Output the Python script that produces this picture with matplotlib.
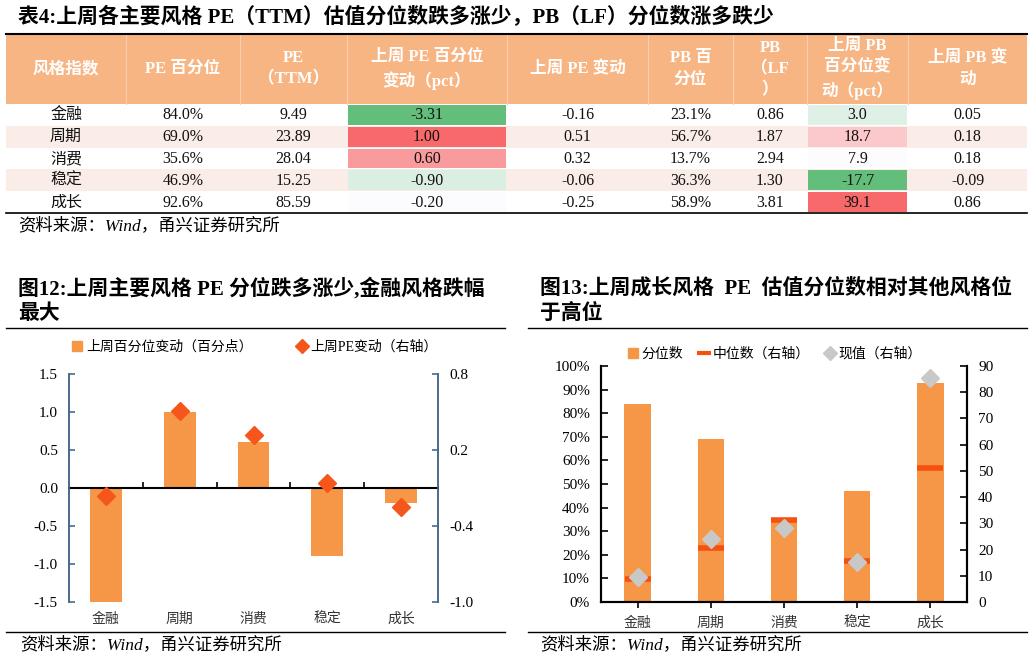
import numpy as np
import matplotlib
matplotlib.use('Agg')
from matplotlib import pyplot as plt
from matplotlib.patches import Rectangle, Patch
from matplotlib.lines import Line2D

plt.rcParams['axes.unicode_minus'] = False
FONTS = ['Liberation Serif', 'Noto Sans CJK SC']
plt.rcParams['font.family'] = FONTS

# ---- data ----
styles = ['金融', '周期', '消费', '稳定', '成长']
pe_pct = [84.0, 69.0, 35.6, 46.9, 92.6]
pe_ttm = [9.49, 23.89, 28.04, 15.25, 85.59]
pe_pct_chg = [-3.31, 1.00, 0.60, -0.90, -0.20]
pe_chg = [-0.16, 0.51, 0.32, -0.06, -0.25]
pb_pct = [23.1, 56.7, 13.7, 36.3, 58.9]
pb_lf = [0.86, 1.87, 2.94, 1.30, 3.81]
pb_pct_chg = [3.0, 18.7, 7.9, -17.7, 39.1]
pb_chg = [0.05, 0.18, 0.18, -0.09, 0.86]
pe_median = [8.6, 20.6, 31.4, 15.6, 51.1]

headers = ['风格指数', 'PE 百分位', 'PE\n（TTM）', '上周 PE 百分位\n变动（pct）', '上周 PE 变动',
           'PB 百\n分位', 'PB\n（LF\n）', '上周 PB\n百分位变\n动（pct）', '上周 PB 变\n动']

ORANGE = '#F59746'
HEAD = '#F8B584'
SOURCE = '资料来源：Wind，甬兴证券研究所'


def scale_colors(vals):
    # excel style 3 colour scale: green - white(median) - red
    green = np.array([99, 190, 123]) / 255
    white = np.array([252, 252, 255]) / 255
    red = np.array([248, 105, 107]) / 255
    lo, mid, hi = min(vals), np.median(vals), max(vals)
    out = []
    for v in vals:
        if v >= mid:
            t = (v - mid) / (hi - mid) if hi > mid else 0
            out.append(white + (red - white) * t)
        else:
            t = (mid - v) / (mid - lo)
            out.append(white + (green - white) * t)
    return out


fig = plt.figure(figsize=(10.32, 6.59), dpi=100)
bg = fig.add_axes([0, 0, 1, 1])
bg.set_xlim(0, 1032)
bg.set_ylim(659, 0)
bg.axis('off')

# ---- table ----
bg.text(18, 18, '表4:上周各主要风格 PE（TTM）估值分位数跌多涨少，PB（LF）分位数涨多跌少',
        fontsize=15, fontweight='bold', va='center', ha='left')

col_x = [6, 126, 240, 347, 507, 648, 733, 807, 908, 1027]
top, head_h, row_h = 34, 70, 21.8
bg.add_patch(Rectangle((col_x[0], top), col_x[-1] - col_x[0], head_h, color=HEAD, lw=0))
for xx in col_x[1:-1]:
    bg.plot([xx, xx], [top, top + head_h], color='#FBCDAE', lw=0.8)
for j, h in enumerate(headers):
    bg.text((col_x[j] + col_x[j + 1]) / 2, top + head_h / 2, h, ha='center', va='center',
            color='white', fontweight='bold', fontsize=12, linespacing=1.45)

cols = [styles,
        ['%.1f%%' % v for v in pe_pct],
        ['%.2f' % v for v in pe_ttm],
        ['%.2f' % v for v in pe_pct_chg],
        ['%.2f' % v for v in pe_chg],
        ['%.1f%%' % v for v in pb_pct],
        ['%.2f' % v for v in pb_lf],
        ['%.1f' % v for v in pb_pct_chg],
        ['%.2f' % v for v in pb_chg]]
cell_cols = {3: scale_colors(pe_pct_chg), 7: scale_colors(pb_pct_chg)}

body_top = top + head_h
for i in range(len(styles)):
    y0 = body_top + i * row_h
    if i % 2 == 1:
        bg.add_patch(Rectangle((col_x[0], y0), col_x[-1] - col_x[0], row_h, color='#FAEDE7', lw=0))
    for j in range(len(cols)):
        if j in cell_cols:
            bg.add_patch(Rectangle((col_x[j] + 1, y0 + 1), col_x[j + 1] - col_x[j] - 2, row_h - 2,
                                   color=cell_cols[j][i], lw=0))
        bg.text((col_x[j] + col_x[j + 1]) / 2, y0 + row_h / 2 + 0.5, cols[j][i],
                ha='center', va='center', fontsize=11.5, color='#111111')

bg.plot([col_x[0], col_x[-1]], [top, top], color='black', lw=1.5)
bot = body_top + len(styles) * row_h
bg.plot([col_x[0], col_x[-1]], [bot, bot], color='black', lw=1.2)
bg.text(18, 226, SOURCE, fontsize=12.5, style='italic', va='center')

# ---- chart titles / frame lines ----
bg.text(18, 301, '图12:上周主要风格 PE 分位跌多涨少,金融风格跌幅\n最大',
        fontsize=15, fontweight='bold', va='center', linespacing=1.35)
bg.text(540, 301, '图13:上周成长风格  PE  估值分位数相对其他风格位\n于高位',
        fontsize=15, fontweight='bold', va='center', linespacing=1.35)
for xa, xb in [(6, 505), (528, 1027)]:
    bg.plot([xa, xb], [328, 328], color='black', lw=1.0)
    bg.plot([xa, xb], [632, 632], color='black', lw=1.0)
bg.text(20, 645, SOURCE, fontsize=12.5, style='italic', va='center')
bg.text(540, 645, SOURCE, fontsize=12.5, style='italic', va='center')

x = np.arange(len(styles))

# ---- chart 12 ----
SPC = '#4A6A8C'
ax1 = fig.add_axes([69 / 1032, 57 / 659, 369 / 1032, 228 / 659])
ax1.bar(x, pe_pct_chg, width=0.43, color=ORANGE, zorder=2)
ax1.set_xlim(-0.5, 4.5)
ax1.set_ylim(-1.5, 1.5)
ax1.set_yticks(np.arange(-1.5, 1.51, 0.5))
ax1.set_yticklabels(['%.1f' % v for v in np.arange(-1.5, 1.51, 0.5)])
ax1.spines['top'].set_visible(False)
ax1.spines['bottom'].set_position(('data', 0))
ax1.spines['bottom'].set_linewidth(1.5)
ax1.spines['bottom'].set_zorder(3)
for s in ['left', 'right']:
    ax1.spines[s].set_color(SPC)
    ax1.spines[s].set_linewidth(1.2)
ax1.set_xticks(x)
ax1.set_xticklabels(styles, family=['Noto Sans CJK SC'], fontsize=10, color='#333333')
ax1.set_xticks(np.arange(0.5, 4, 1), minor=True)
ax1.tick_params(axis='x', which='major', length=0, pad=89)
ax1.tick_params(axis='x', which='minor', direction='in', length=4, width=1.2)
ax1.tick_params(axis='y', direction='in', length=4, width=1.2, color=SPC, labelsize=11, pad=8)

ax1r = ax1.twinx()
ax1r.plot(x, pe_chg, 'D', color='#F5561B', ms=9, zorder=4)
ax1r.set_ylim(-1.0, 0.8)
ax1r.set_yticks([-1.0, -0.4, 0.2, 0.8])
ax1r.set_yticklabels(['-1.0', '-0.4', '0.2', '0.8'])
for s in ['top', 'bottom']:
    ax1r.spines[s].set_visible(False)
for s in ['left', 'right']:
    ax1r.spines[s].set_color(SPC)
    ax1r.spines[s].set_linewidth(1.2)
ax1r.tick_params(axis='y', direction='in', length=4, width=1.2, color=SPC, labelsize=11, pad=8)

h1 = [Patch(color=ORANGE), Line2D([], [], ls='', marker='D', color='#F5561B', ms=7)]
fig.legend(h1, ['上周百分位变动（百分点）', '上周PE变动（右轴）'], loc='center',
           bbox_to_anchor=(255 / 1032, 1 - 347 / 659), ncol=2, frameon=False, fontsize=10,
           handlelength=0.7, handleheight=0.7, handletextpad=0.3, columnspacing=3.2)

# ---- chart 13 ----
ax2 = fig.add_axes([601 / 1032, 57 / 659, 366 / 1032, 236 / 659])
ax2.bar(x, pe_pct, width=0.36, color=ORANGE, zorder=2)
ax2.set_xlim(-0.5, 4.5)
ax2.set_ylim(0, 100)
ax2.set_yticks(range(0, 101, 10))
ax2.set_yticklabels(['%d%%' % v for v in range(0, 101, 10)])
ax2.set_xticks(x)
ax2.set_xticklabels(styles, family=['Noto Sans CJK SC'], fontsize=10, color='#333333')
ax2.spines['top'].set_visible(False)
for s in ['left', 'right', 'bottom']:
    ax2.spines[s].set_linewidth(1.5)
ax2.tick_params(axis='x', direction='out', length=4, width=1.2, pad=6)
ax2.tick_params(axis='y', direction='in', length=5, width=1.2, labelsize=11, pad=8)

ax2r = ax2.twinx()
ax2r.plot(x, pe_median, ls='', marker='_', color='#F5520F', ms=19, mew=4, zorder=3)
ax2r.plot(x, pe_ttm, ls='', marker='D', color='#C8C8C8', ms=9, zorder=4)
ax2r.set_ylim(0, 90)
ax2r.set_yticks(range(0, 91, 10))
ax2r.spines['top'].set_visible(False)
for s in ['left', 'right', 'bottom']:
    ax2r.spines[s].set_linewidth(1.5)
ax2r.tick_params(axis='y', direction='in', length=5, width=1.2, labelsize=11, pad=8)

h2 = [Patch(color=ORANGE), Line2D([], [], ls='', marker='_', color='#F5520F', ms=10, mew=3),
      Line2D([], [], ls='', marker='D', color='#C8C8C8', ms=7)]
fig.legend(h2, ['分位数', '中位数（右轴）', '现值（右轴）'], loc='center',
           bbox_to_anchor=(775 / 1032, 1 - 354 / 659), ncol=3, frameon=False, fontsize=10,
           handlelength=0.7, handleheight=0.7, handletextpad=0.3, columnspacing=1.1)

fig.savefig('out.png', dpi=100)
